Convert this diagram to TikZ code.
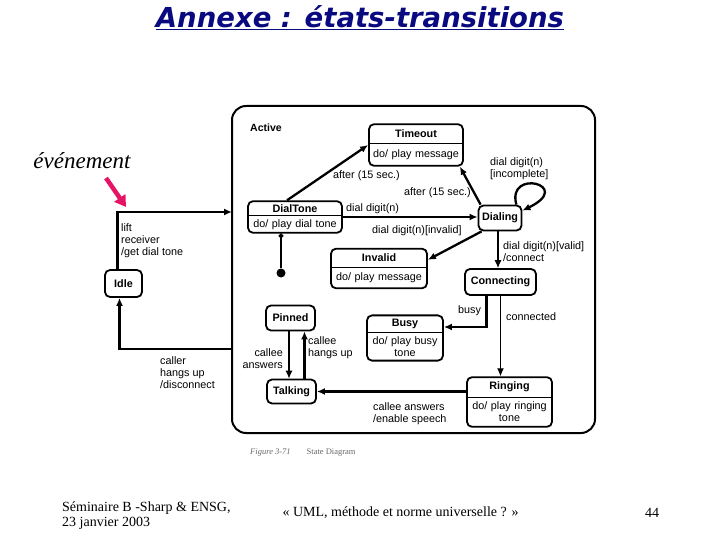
\documentclass[tikz,border=0pt]{standalone}
\usepackage{fontspec}
\setmainfont{Liberation Serif}
\newfontfamily\diagfont{Liberation Sans}
\newfontfamily\titlefont{DejaVu Sans}
\usetikzlibrary{arrows.meta, positioning, shapes.multipart}
\definecolor{titleblue}{RGB}{10,10,128}
\definecolor{evtpink}{RGB}{230,20,100}

\begin{document}
\begin{tikzpicture}[
  x=1pt, y=-1pt,
  state/.style={draw, line width=1.8pt, rounded corners=5pt, align=center, inner xsep=2pt,
    font=\diagfont\fontsize{10.8}{12}\selectfont},
  splitstate/.style={state, rectangle split, rectangle split parts=2, rectangle split draw splits=false},
  lbl/.style={inner sep=0pt, align=left, font=\diagfont\fontsize{10.8}{12}\selectfont},
  arrow/.style={-{Latex[length=8pt,width=7pt]}, line width=2.3pt},
  thinarrow/.style={-{Latex[length=8pt,width=7pt]}, line width=1.1pt}
]
\useasboundingbox (0,0) rectangle (720,540);

% Title and note
\node[font=\titlefont\bfseries\itshape\fontsize{27.5}{30}\selectfont, text=titleblue] (title) at (360,18) {\underline{Annexe : états-transitions}};
\node[font=\itshape\fontsize{23}{26}\selectfont] (event) at (82,161) {événement};
\draw[evtpink, line width=4.5pt, -{Triangle[length=11pt,width=13pt]}] (106,178) -- (126,207);

% Superstate
\node[draw, line width=2pt, rounded corners=14pt, minimum width=363, minimum height=327] (active) at (413.5,269.5) {};
\node[lbl, anchor=west, font=\diagfont\bfseries\fontsize{10.5}{12}\selectfont] (activelbl) at (250,128) {Active};

% States
\node[splitstate, text width=90pt, inner ysep=5pt] (timeout) at (416,145) {\textbf{Timeout}\nodepart{two}do/ play message};
\node[splitstate, text width=90pt, inner ysep=2.5pt] (dialtone) at (295,217) {\textbf{DialTone}\nodepart{two}do/ play dial tone};
\node[state, minimum width=43pt, minimum height=25pt] (dialing) at (500,218) {\textbf{Dialing}};
\node[splitstate, text width=92pt, inner ysep=4.5pt] (invalid) at (379,268.5) {\textbf{Invalid}\nodepart{two}do/ play message};
\node[state, minimum width=71pt, minimum height=26pt] (connecting) at (500.5,282) {\textbf{Connecting}};
\node[state, minimum width=37pt, minimum height=27pt] (idle) at (123.5,283.5) {\textbf{Idle}};
\node[state, minimum width=49pt, minimum height=25pt] (pinned) at (290.5,318) {\textbf{Pinned}};
\node[splitstate, text width=72pt, inner ysep=3pt] (busy) at (405,338) {\textbf{Busy}\nodepart{two}do/ play busy\\tone};
\node[splitstate, text width=81pt, inner ysep=4pt] (ringing) at (509.5,402) {\textbf{Ringing}\nodepart{two}do/ play ringing\\tone};
\node[state, minimum width=49pt, minimum height=24pt] (talking) at (291.5,391.5) {\textbf{Talking}};
\node[circle, fill, inner sep=0pt, minimum size=9pt] (init) at (281,273) {};
\foreach \s in {timeout, dialtone, invalid, busy, ringing}
  \draw[line width=0.9pt] (\s.text split west) -- (\s.text split east);

\coordinate (liftin) at (232,212);
\coordinate (hangup) at (232,349);

% Transitions
\draw[line width=2.3pt, -{Circle[length=4.5pt]}] (init) -- (init |- dialtone.south);
\draw[arrow] ([xshift=-6pt]idle.north) |- (liftin);
\draw[arrow] (hangup) -| ([xshift=-4pt]idle.south);
\draw[arrow] ([xshift=-8pt]dialtone.north) -- (timeout.west);
\draw[arrow] ([xshift=3pt]dialing.north west) -- ([xshift=-4pt]timeout.south east);
\draw[arrow] (dialtone.east) -- (dialtone.east -| dialing.west);
\draw[arrow] ([xshift=4pt]dialing.south west) -- ([yshift=-12pt]invalid.north east);
\draw[arrow] ([xshift=-6pt]dialing.north east) .. controls (506,168) and (575,185) .. ([yshift=-6pt]dialing.north east);
\draw[thinarrow] ([xshift=-2pt]dialing.south) -- ([xshift=-2pt]dialing.south |- connecting.north);
\draw[arrow] ([xshift=-14pt]connecting.south) |- ([yshift=11pt]busy.east);
\draw[thinarrow] (connecting.south) -- (connecting.south |- ringing.north);
\draw[arrow] (ringing.west |- talking.east) -- (talking.east);
\draw[thinarrow] ([xshift=-1.5pt]pinned.south) -- ([xshift=-1.5pt]pinned.south |- talking.north);
\draw[arrow] ([xshift=13pt]talking.north) -- ([xshift=13pt]talking.north |- pinned.south);

% Labels
\node[lbl, anchor=west] (aftera) at (333,176) {after (15 sec.)};
\node[lbl, anchor=west] (afterb) at (404,193) {after (15 sec.)};
\node[lbl, anchor=west] (incomplete) at (490,168.5) {dial digit(n)\\{[incomplete]}};
\node[lbl, anchor=west] (digit) at (346,209) {dial digit(n)};
\node[lbl, anchor=west] (invalidlbl) at (372,231) {dial digit(n)[invalid]};
\node[lbl, anchor=west] (valid) at (503,252) {dial digit(n)[valid]\\/connect};
\node[lbl, anchor=west] (lift) at (121,241) {lift\\receiver\\/get dial tone};
\node[lbl, anchor=west] (busylbl) at (458,311) {busy};
\node[lbl, anchor=west] (connected) at (506,317) {connected};
\node[lbl, anchor=east, align=right] (answers) at (283,359) {callee\\answers};
\node[lbl, anchor=west] (hangsup) at (308,348) {callee\\hangs up};
\node[lbl, anchor=west] (disconnect) at (160,373) {caller\\hangs up\\/disconnect};
\node[lbl, anchor=west] (speech) at (373,413.5) {callee answers\\/enable speech};
\node[anchor=west, inner sep=0pt, text=black!60, font=\fontsize{8.5}{10}\selectfont] (figcap) at (250,453) {\textit{Figure 3-71}\hspace{16pt}State Diagram};

% Footer
\node[anchor=west, align=left, inner sep=0pt, font=\fontsize{14}{15.5}\selectfont] (seminar) at (62,515.5) {Séminaire B -Sharp \& ENSG,\\23 janvier 2003};
\node[inner sep=0pt, font=\fontsize{14}{15.5}\selectfont] (uml) at (400.5,513) {« UML, méthode et norme universelle ? »};
\node[inner sep=0pt, font=\fontsize{14}{15.5}\selectfont] (page) at (652,513) {44};
\end{tikzpicture}
\end{document}
